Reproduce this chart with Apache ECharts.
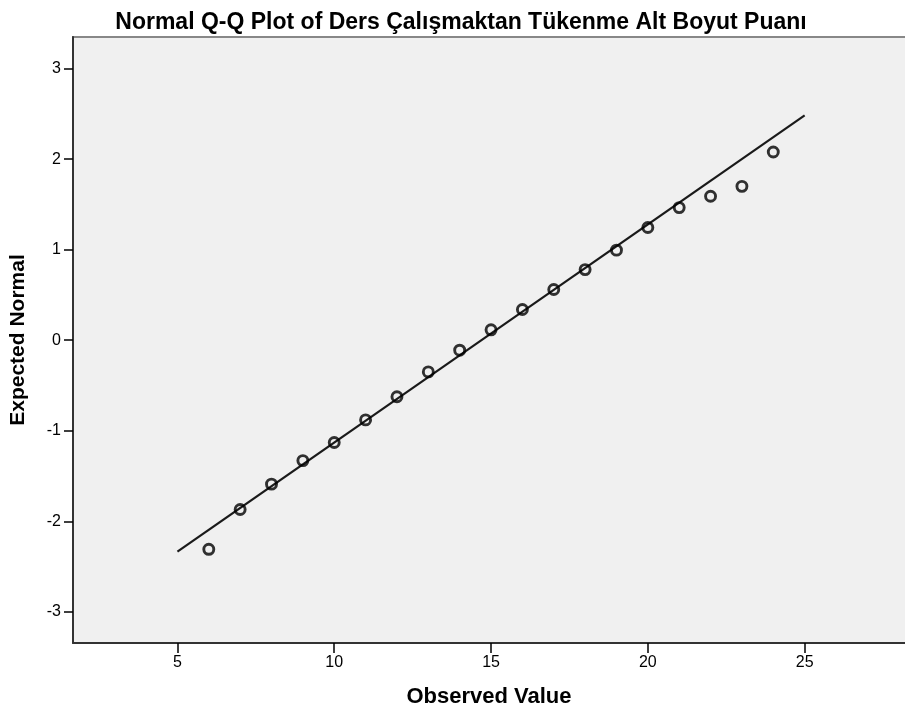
<!DOCTYPE html>
<html>
<head>
<meta charset="utf-8">
<script src="https://cdn.jsdelivr.net/npm/echarts@6/dist/echarts.min.js"></script>
<style>
html,body{margin:0;padding:0;background:#fff;}
#chart{width:905px;height:718px;}
</style>
</head>
<body>
<div id="chart"></div>
<script>
const titleText = 'Normal Q-Q Plot of Ders Çalışmaktan Tükenme Alt Boyut Puanı';
const observedValues = [6, 7, 8, 9, 10, 11, 12, 13, 14, 15, 16, 17, 18, 19, 20, 21, 22, 23, 24];
const expectedNormal = [-2.31, -1.87, -1.59, -1.33, -1.13, -0.88, -0.625, -0.35, -0.11, 0.115, 0.34, 0.56, 0.78, 0.995, 1.245, 1.465, 1.59, 1.70, 2.08];
const refLineX = [5, 25];
const refLineY = [-2.335, 2.485];
const xTickValues = [5, 10, 15, 20, 25];
const yTickValues = [-3, -2, -1, 0, 1, 2, 3];

const chart = echarts.init(document.getElementById('chart'), null, {renderer: 'canvas'});
const font = 'Arial, "Liberation Sans", sans-serif';
chart.setOption({
  animation: false,
  backgroundColor: '#ffffff',
  title: {
    text: titleText,
    left: 456, top: 6, textAlign: 'center',
    textStyle: {fontFamily: font, fontSize: 23, fontWeight: 'bold', color: '#000'}
  },
  grid: {
    left: 72, top: 37, right: 0, bottom: 75,
    show: true, backgroundColor: '#f0f0f0', borderWidth: 0
  },
  xAxis: {
    type: 'value', min: 1.67, max: 28.2,
    name: 'Observed Value', nameLocation: 'middle', nameGap: 43,
    nameTextStyle: {fontFamily: font, fontSize: 22, fontWeight: 'bold', color: '#000'},
    axisLine: {show: true, onZero: false, lineStyle: {color: '#333', width: 2}},
    axisTick: {show: true, customValues: xTickValues, length: 10, lineStyle: {color: '#000', width: 1.5}},
    axisLabel: {customValues: xTickValues, fontFamily: font, fontSize: 16, color: '#000', margin: 12},
    splitLine: {show: false}
  },
  yAxis: {
    type: 'value', min: -3.345, max: 3.35,
    name: 'Expected Normal', nameLocation: 'middle', nameGap: 44, nameRotate: 90,
    nameTextStyle: {fontFamily: font, fontSize: 21, fontWeight: 'bold', color: '#000'},
    axisLine: {show: true, onZero: false, lineStyle: {color: '#333', width: 2}},
    axisTick: {show: true, customValues: yTickValues, length: 9, lineStyle: {color: '#000', width: 1.5}},
    axisLabel: {customValues: yTickValues, fontFamily: font, fontSize: 16, color: '#000', margin: 12},
    splitLine: {show: false}
  },
  graphic: [{
    type: 'line', shape: {x1: 72, y1: 37, x2: 905, y2: 37},
    style: {stroke: '#888', lineWidth: 2}, silent: true
  }],
  series: [
    {
      type: 'line',
      data: refLineX.map((x, i) => [x, refLineY[i]]),
      symbol: 'none',
      lineStyle: {color: '#1a1a1a', width: 2.2},
      z: 2
    },
    {
      type: 'scatter',
      data: observedValues.map((x, i) => [x, expectedNormal[i]]),
      symbol: 'circle', symbolSize: 10,
      itemStyle: {color: 'rgba(0,0,0,0)', borderColor: '#000', borderWidth: 2.9},
      z: 3
    }
  ]
});
</script>
</body>
</html>
